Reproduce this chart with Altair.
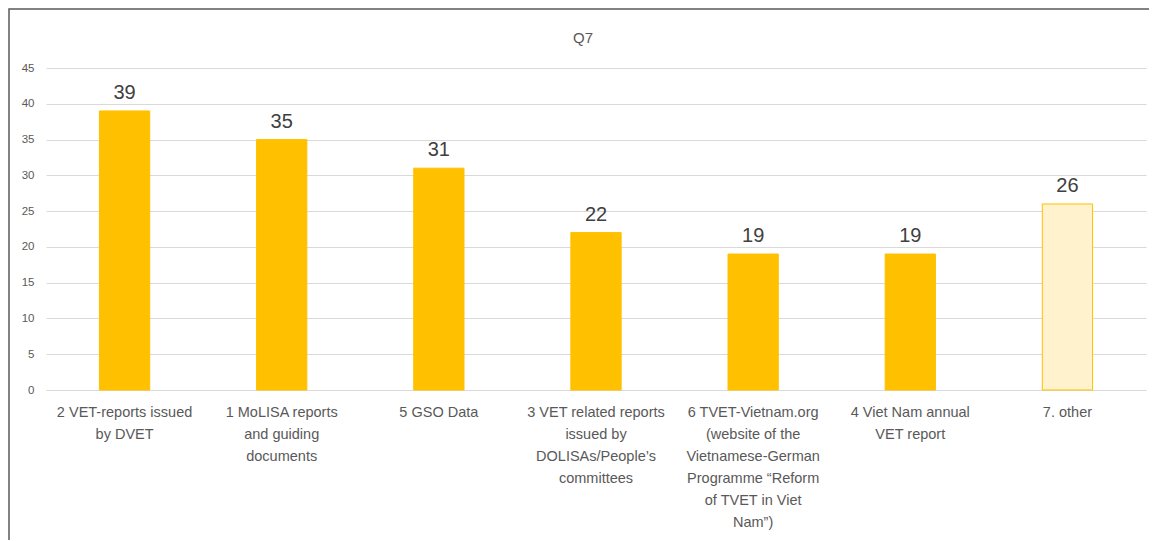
import altair as alt
import pandas as pd

categories = [
    "2 VET-reports issued\nby DVET",
    "1 MoLISA reports\nand guiding\ndocuments",
    "5 GSO Data",
    "3 VET related reports\nissued by\nDOLISAs/People\u2019s\ncommittees",
    "6 TVET-Vietnam.org\n(website of the\nVietnamese-German\nProgramme \u201cReform\nof TVET in Viet\nNam\u201d)",
    "4 Viet Nam annual\nVET report",
    "7. other",
]
values = [39, 35, 31, 22, 19, 19, 26]
fills = ["#FFC000", "#FFC000", "#FFC000", "#FFC000", "#FFC000", "#FFC000", "#FFF2CC"]
y_ticks = [0, 5, 10, 15, 20, 25, 30, 35, 40, 45]
chart_title = ["Q7"]

df = pd.DataFrame({"cat": categories, "val": values, "fill": fills})
tdf = pd.DataFrame({"t": chart_title})

FONT = "Liberation Sans"

x = alt.X(
    "cat:N",
    sort=categories,
    title=None,
    scale=alt.Scale(paddingInner=0.68, paddingOuter=0.34),
    axis=alt.Axis(
        labelAngle=0,
        labelExpr="split(datum.label, '\\n')",
        labelFont=FONT,
        labelFontSize=14.5,
        labelColor="#595959",
        labelLineHeight=22,
        labelPadding=15,
        labelBaseline="top",
        ticks=False,
        domain=True,
        domainColor="#d9d9d9",
        grid=False,
        labelLimit=300,
        labelOverlap=False,
    ),
)
y = alt.Y(
    "val:Q",
    title=None,
    scale=alt.Scale(domain=[0, 45], nice=False),
    axis=alt.Axis(
        values=y_ticks,
        labelFont=FONT,
        labelFontSize=11.5,
        labelColor="#595959",
        labelPadding=12,
        ticks=False,
        domain=False,
        gridColor="#d9d9d9",
        gridWidth=1,
        labelOverlap=False,
    ),
)

bars = alt.Chart(df).mark_bar(stroke="#FFC000", strokeWidth=1).encode(
    x=x, y=y, fill=alt.Fill("fill:N", scale=None)
)
text = alt.Chart(df).mark_text(
    baseline="bottom", dy=-8, fontSize=20, font=FONT, color="#404040"
).encode(x=x, y=y, text="val:Q")

title = alt.Chart(tdf).mark_text(
    fontSize=15, font=FONT, color="#595959", baseline="middle", align="center"
).encode(x=alt.value(537), y=alt.value(-30), text="t:N")

border = alt.Chart(tdf).mark_rect(
    fill=None, stroke="#595959", strokeWidth=1.5
).encode(
    x=alt.value(-37), x2=alt.value(1200), y=alt.value(-59), y2=alt.value(600)
)

chart = alt.layer(bars, text, title, border).properties(
    width=1100,
    height=322,
    padding={"left": 38, "top": 60, "right": 3, "bottom": 150},
    autosize=alt.AutoSizeParams(type="none"),
).configure_view(stroke=None)

chart.save("out.html", embed_options={"renderer": "svg", "actions": False})
